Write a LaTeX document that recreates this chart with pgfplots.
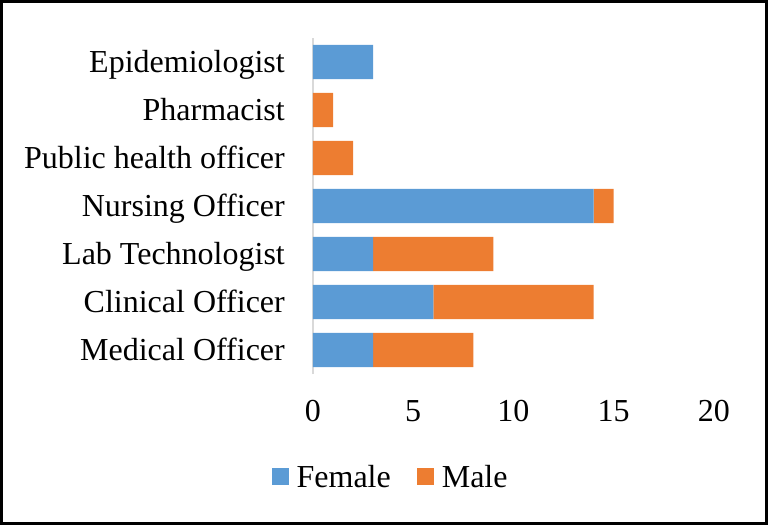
\documentclass[border=0pt]{standalone}
\usepackage{fontspec}
\setmainfont{Liberation Serif}
\newfontfamily\tnr{Liberation Serif}
\usepackage{pgfplots}
\pgfplotsset{compat=1.18}
\definecolor{cf}{HTML}{5B9BD5}
\definecolor{cm}{HTML}{ED7D31}
\definecolor{axgray}{HTML}{D9D9D9}
\begin{document}
\begin{tikzpicture}
\useasboundingbox (-313bp,-151bp) rectangle (455bp,374bp);
\draw[line width=3bp] (-311.5bp,-149.5bp) rectangle (453.5bp,372.5bp);
\begin{axis}[
  at={(0,0)}, anchor=south west,
  scale only axis, width=401bp, height=336bp,
  xbar stacked, bar width=0.71,
  xmin=0, xmax=20, ymin=-0.5, ymax=6.5,
  xtick={0,5,10,15,20}, ytick={0,1,2,3,4,5,6},
  yticklabels={Medical Officer, Clinical Officer, Lab Technologist, Nursing Officer, Public health officer, Pharmacist, Epidemiologist},
  axis x line*=bottom, axis y line*=left,
  x axis line style={draw=none},
  y axis line style={draw=axgray, line width=2bp},
  major tick length=0pt, tick style={draw=none},
  font=\tnr\fontsize{32bp}{38bp}\selectfont,
  /pgf/number format/assume math mode=true,
  xticklabel style={anchor=base, inner sep=0pt, yshift=-47bp},
  yticklabel style={anchor=base east, inner sep=0pt, xshift=-28bp, yshift=-10.5bp},
  legend style={at={(0.191,-0.3065)}, anchor=center, draw=none, fill=none,
    legend columns=2, font=\tnr\fontsize{32bp}{38bp}\selectfont,
    nodes={inner sep=0pt}, column sep=8bp,
    /tikz/every even column/.append style={column sep=26bp}},
  legend image code/.code={\fill[#1,draw=none] (0bp,-8.5bp) rectangle (17bp,8.5bp);},
]
\addplot[fill=cf, draw=none] coordinates {(3,0) (6,1) (3,2) (14,3) (0,4) (0,5) (3,6)};
\addplot[fill=cm, draw=none] coordinates {(5,0) (8,1) (6,2) (1,3) (2,4) (1,5) (0,6)};
\legend{Female, Male}
\end{axis}
\end{tikzpicture}
\end{document}
